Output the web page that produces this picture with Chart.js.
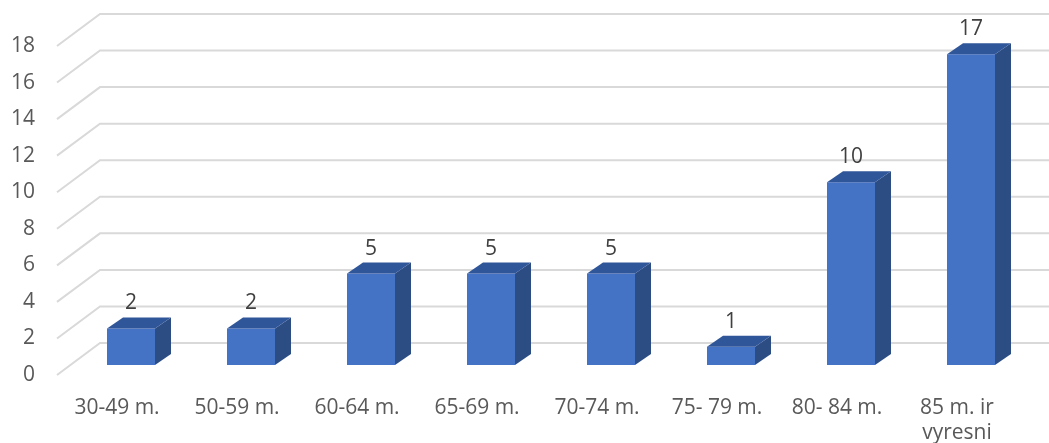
<!DOCTYPE html>
<html>
<head>
<meta charset="utf-8">
<script src="https://cdn.jsdelivr.net/npm/chart.js@4"></script>
<style>
    html, body { margin: 0; padding: 0; background: #fff; }
    #wrap { width: 1049px; height: 443px; }
</style>
</head>
<body>
<div id="wrap"><canvas id="ageChart" width="1049" height="443"></canvas></div>
<script>
const categories = ['30-49 m.', '50-59 m.', '60-64 m.', '65-69 m.', '70-74 m.', '75- 79 m.', '80- 84 m.', ['85 m. ir', 'vyresni']];
const counts = [2, 2, 5, 5, 5, 1, 10, 17];
const yMin = 0;
const yMax = 18;
const yStep = 2;

const FONT = '"Open Sans", "Noto Sans", sans-serif';

// fake 3D: back wall grid + bar sides/tops
const depth = { dx: 16, dy: -11 };
const floorFront = { dx: -14, dy: 10 };
const wallBack = { dx: 29, dy: -22 };

const wallGrid = {
    id: 'wallGrid',
    beforeDatasetsDraw(chart) {
        const ctx = chart.ctx;
        const area = chart.chartArea;
        const y = chart.scales.y;
        ctx.save();
        ctx.strokeStyle = '#d9d9d9';
        ctx.lineWidth = 2;
        for (let v = yMin; v <= yMax; v += yStep) {
            const p = y.getPixelForValue(v);
            ctx.beginPath();
            ctx.moveTo(area.left + floorFront.dx, p + floorFront.dy);
            ctx.lineTo(area.left + wallBack.dx, p + wallBack.dy);
            ctx.lineTo(chart.width, p + wallBack.dy);
            ctx.stroke();
        }
        ctx.restore();
    },
    afterDatasetsDraw(chart) {
        const ctx = chart.ctx;
        const meta = chart.getDatasetMeta(0);
        ctx.save();
        meta.data.forEach((bar, i) => {
            const left = bar.x - bar.width / 2;
            const right = bar.x + bar.width / 2;
            const top = bar.y;
            const base = bar.base;

            // side
            ctx.fillStyle = '#2c4c84';
            ctx.beginPath();
            ctx.moveTo(right, top);
            ctx.lineTo(right + depth.dx, top + depth.dy);
            ctx.lineTo(right + depth.dx, base + depth.dy);
            ctx.lineTo(right, base);
            ctx.closePath();
            ctx.fill();

            // top
            ctx.fillStyle = '#30569a';
            ctx.beginPath();
            ctx.moveTo(left, top);
            ctx.lineTo(left + depth.dx, top + depth.dy);
            ctx.lineTo(right + depth.dx, top + depth.dy);
            ctx.lineTo(right, top);
            ctx.closePath();
            ctx.fill();

            // value label
            ctx.fillStyle = '#404040';
            ctx.font = '21px ' + FONT;
            ctx.textAlign = 'center';
            ctx.textBaseline = 'middle';
            ctx.fillText(String(counts[i]), bar.x, top - 25);
        });
        ctx.restore();
    }
};

new Chart(document.getElementById('ageChart').getContext('2d'), {
    type: 'bar',
    data: {
        labels: categories,
        datasets: [{
            data: counts,
            backgroundColor: '#4472c4',
            borderWidth: 0,
            barPercentage: 0.4,
            categoryPercentage: 1,
        }]
    },
    options: {
        responsive: false,
        animation: false,
        devicePixelRatio: 1,
        layout: { padding: { top: 36, right: 18, left: 0, bottom: 0 } },
        plugins: {
            legend: { display: false },
            tooltip: { enabled: false },
        },
        scales: {
            x: {
                grid: { display: false, drawTicks: false },
                border: { display: false },
                ticks: {
                    color: '#595959',
                    font: { family: FONT, size: 21, lineHeight: 1.2 },
                    padding: 30,
                    labelOffset: -14,
                    maxRotation: 0,
                    autoSkip: false,
                },
                afterFit(scale) {
                    scale.height = 78;
                    scale.paddingLeft = 0;
                    scale.paddingRight = 0;
                },
            },
            y: {
                min: yMin,
                max: yMax,
                grid: { display: false, drawTicks: false },
                border: { display: false },
                ticks: {
                    stepSize: yStep,
                    color: '#595959',
                    font: { family: FONT, size: 21 },
                    padding: 36,
                    labelOffset: 10,
                },
                afterFit(scale) {
                    scale.width = 71;
                    scale.paddingTop = 0;
                    scale.paddingBottom = 0;
                },
            }
        }
    },
    plugins: [wallGrid]
});
</script>
</body>
</html>
